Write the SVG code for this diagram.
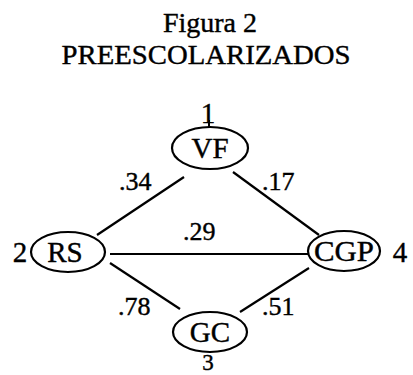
<svg xmlns="http://www.w3.org/2000/svg" width="413" height="375" viewBox="0 0 413 375">
  <style>
    text { font-family: "Liberation Serif", "Times New Roman", serif; fill: #000; stroke: #000; stroke-width: 0.4; }
    .title { font-size: 28px; text-anchor: middle; }
    .node ellipse { fill: #fff; stroke: #000; stroke-width: 2.2; }
    .node text { font-size: 29px; text-anchor: middle; }
    .num { font-size: 25px; }
    .coef { font-size: 26px; }
    #edges line { stroke: #000; stroke-width: 2.2; }
  </style>
  <rect width="413" height="375" fill="#fff"/>

  <!-- heading -->
  <text class="title" x="210" y="32">Figura 2</text>
  <text class="title" x="206" y="64" textLength="289" lengthAdjust="spacingAndGlyphs">PREESCOLARIZADOS</text>

  <!-- connectors -->
  <g id="edges">
    <line x1="184" y1="177" x2="97" y2="235"/>
    <line x1="233" y1="172" x2="319" y2="235"/>
    <line x1="110" y1="254" x2="308" y2="254"/>
    <line x1="110" y1="263" x2="180" y2="309"/>
    <line x1="309" y1="268" x2="240" y2="312"/>
    <text class="coef" x="119" y="190">.34</text>
    <text class="coef" x="262" y="190">.17</text>
    <text class="coef" x="183" y="240">.29</text>
    <text class="coef" x="118" y="315">.78</text>
    <text class="coef" x="262" y="315">.51</text>
  </g>

  <!-- nodes -->
  <g id="node-vf" class="node">
    <ellipse cx="210" cy="148" rx="38" ry="21"/>
    <text x="210" y="158">VF</text>
    <text class="num" x="208" y="123" text-anchor="middle">1</text>
    <line x1="209" y1="120" x2="209" y2="127" stroke="#000" stroke-width="2"/>
  </g>
  <g id="node-rs" class="node">
    <ellipse cx="68" cy="252" rx="37" ry="20"/>
    <text x="65" y="262">RS</text>
    <text class="num" x="20" y="262" text-anchor="middle">2</text>
  </g>
  <g id="node-cgp" class="node">
    <ellipse cx="344" cy="251" rx="36" ry="20"/>
    <text x="344" y="261" textLength="60" lengthAdjust="spacingAndGlyphs">CGP</text>
    <text class="num" x="400" y="262" text-anchor="middle">4</text>
  </g>
  <g id="node-gc" class="node">
    <ellipse cx="210" cy="332" rx="37" ry="20"/>
    <text x="210" y="342">GC</text>
    <text class="num" x="208" y="370" text-anchor="middle" style="font-size:23px">3</text>
  </g>
</svg>
